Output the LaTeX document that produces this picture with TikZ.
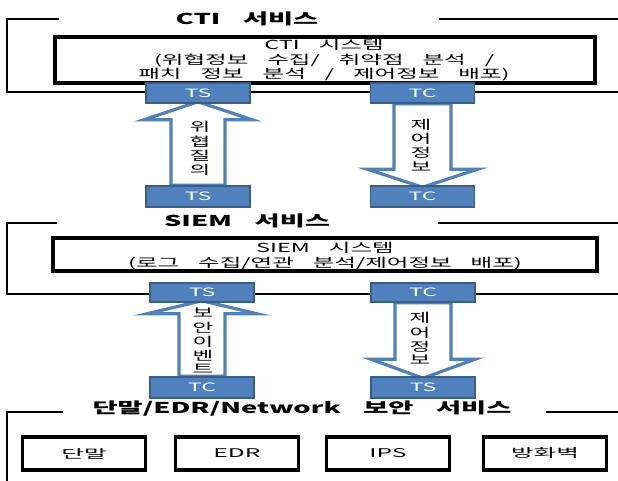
\documentclass[tikz,border=0pt]{standalone}
\usepackage{fontspec}
\setmainfont{Noto Sans CJK KR}[WordSpace=3.6]
\usetikzlibrary{calc}
\definecolor{blueF}{RGB}{79,129,189}
\definecolor{blueD}{RGB}{56,93,138}
\newcommand{\wttl}[1]{\scalebox{1.82}[1]{#1}}
\newcommand{\wbody}[1]{\scalebox{1.88}[1]{#1}}
\newcommand{\wblue}[1]{\scalebox{2.0}[1]{#1}}
\newcommand{\wdev}[1]{\scalebox{2.05}[1]{#1}}
\newcommand{\fsz}[2]{\fontsize{#1}{#2}\selectfont}
\newcommand{\vstack}[1]{\scalebox{1.8}[1]{\fsz{12.5}{12.8}\begin{tabular}{@{}c@{}}#1\end{tabular}}}
\begin{document}
\begin{tikzpicture}[x=1pt,y=-1pt,
  tsbox/.style={draw=blueD, fill=blueF, line width=1.5pt, minimum width=104pt, minimum height=20pt, inner sep=0pt, text=white, font=\fsz{11.5}{13}},
  sysbox/.style={draw=black, line width=3.2pt, inner sep=0pt},
  devbox/.style={draw=black, line width=3.2pt, minimum width=123pt, minimum height=33pt, inner sep=0pt, font=\fsz{12}{14}},
  frame/.style={line width=2pt, draw=black},
  barrow/.style={draw=blueF, line width=3.2pt, fill=white, line join=miter},
  ttl/.style={font=\bfseries\fsz{15}{17}, inner sep=0pt},
  vlab/.style={inner sep=0pt}]
\clip (0,0) rectangle (618,481);
\fill[white] (0,0) rectangle (618,481);
% frames
\draw[frame] (59,19) -- (7,19) -- (7,92) -- (625,92) -- (625,19) -- (439,19);
\draw[frame] (57,223) -- (7,223) -- (7,294) -- (625,294) -- (625,223) -- (438,223);
\draw[frame] (63,412) -- (7,412) -- (7,495);
\draw[frame] (546,412) -- (625,412);
% titles
\node[ttl] (ctititle) at (247,19) {\wttl{CTI 서비스}};
\node[ttl] (siemtitle) at (247,221) {\wttl{SIEM 서비스}};
\node[ttl] (devtitle) at (302,409) {\wttl{단말/EDR/Network 보안 서비스}};
% system boxes
\node[sysbox, minimum width=540pt, minimum height=46pt] (ctisys) at (325,60) {};
\node[inner sep=0pt, font=\fsz{12.5}{13.7}] (ctitext) at (324,61)
  {\wbody{\begin{tabular}{@{}c@{}}CTI 시스템\\(위협정보 수집/ 취약점 분석 /\\패치 정보 분석 / 제어정보 배포)\end{tabular}}};
\node[sysbox, minimum width=544pt, minimum height=33pt] (siemsys) at (325,254.5) {};
\node[inner sep=0pt, font=\fsz{12.5}{14.5}] (siemtext) at (325,256.7)
  {\wbody{\begin{tabular}{@{}c@{}}SIEM 시스템\\(로그 수집/연관 분석/제어정보 배포)\end{tabular}}};
% TS / TC box positions
\coordinate (pA) at (198,93);
\coordinate (qA) at (422.5,93);
\coordinate (pB) at (198,196.5);
\coordinate (qB) at (422.5,196.5);
\coordinate (pC) at (202,292.5);
\coordinate (qC) at (423,292.5);
\coordinate (pD) at (202,387.5);
\coordinate (qD) at (423,387.5);
% invisible geometry nodes for arrow ends
\node[tsbox, draw=none, fill=none] (tsA) at (pA) {};
\node[tsbox, draw=none, fill=none] (tcA) at (qA) {};
\node[tsbox, draw=none, fill=none, minimum height=21pt] (tsB) at (pB) {};
\node[tsbox, draw=none, fill=none, minimum height=21pt] (tcB) at (qB) {};
\node[tsbox, draw=none, fill=none, minimum height=19pt] (tsC) at (pC) {};
\node[tsbox, draw=none, fill=none, minimum height=19pt] (tcC) at (qC) {};
\node[tsbox, draw=none, fill=none, minimum height=21pt] (tcD) at (pD) {};
\node[tsbox, draw=none, fill=none, minimum height=21pt] (tsD) at (qD) {};
% block arrows
\draw[barrow] ($(tsA.south)+(0,-2)$) -- ($(tsA.south)+(54,16)$) -- ($(tsA.south)+(27,16)$) -- ($(tsB.north)+(27,0)$) -- ($(tsB.north)+(-27,0)$) -- ($(tsA.south)+(-27,16)$) -- ($(tsA.south)+(-54,16)$) -- cycle;
\draw[barrow] ($(tcA.south)+(-28.5,0)$) -- ($(tcA.south)+(28.5,0)$) -- ($(tcB.north)+(28.5,-16)$) -- ($(tcB.north)+(55,-16)$) -- ($(tcB.north)+(0,2)$) -- ($(tcB.north)+(-55,-16)$) -- ($(tcB.north)+(-28.5,-16)$) -- cycle;
\draw[barrow] ($(tsC.south)+(0,-2)$) -- ($(tsC.south)+(55,11)$) -- ($(tsC.south)+(23,11)$) -- ($(tcD.north)+(23,0)$) -- ($(tcD.north)+(-23,0)$) -- ($(tsC.south)+(-23,11)$) -- ($(tsC.south)+(-55,11)$) -- cycle;
\draw[barrow] ($(tcC.south)+(-28,0)$) -- ($(tcC.south)+(28,0)$) -- ($(tsD.north)+(28,-17)$) -- ($(tsD.north)+(52,-17)$) -- ($(tsD.north)+(0,2)$) -- ($(tsD.north)+(-52,-17)$) -- ($(tsD.north)+(-28,-17)$) -- cycle;
% TS / TC boxes on top
\node[tsbox] (bA) at (pA) {\wblue{TS}};
\node[tsbox] (cA) at (qA) {\wblue{TC}};
\node[tsbox, minimum height=21pt] (bB) at (pB) {\wblue{TS}};
\node[tsbox, minimum height=21pt] (cB) at (qB) {\wblue{TC}};
\node[tsbox, minimum height=19pt] (bC) at (pC) {\wblue{TS}};
\node[tsbox, minimum height=19pt] (cC) at (qC) {\wblue{TC}};
\node[tsbox, minimum height=21pt] (bD) at (pD) {\wblue{TC}};
\node[tsbox, minimum height=21pt] (cD) at (qD) {\wblue{TS}};
% arrow labels
\node[vlab] (l1) at (200,150) {\vstack{위\\협\\질\\의}};
\node[vlab] (l2) at (421,147) {\vstack{제\\어\\정\\보}};
\node[vlab] (l3) at (203,343) {\vstack{보\\안\\이\\벤\\트}};
\node[vlab] (l4) at (420,340.5) {\vstack{제\\어\\정\\보}};
% devices
\node[devbox] (d1) at (84,453.5) {\wdev{단말}};
\node[devbox] (d2) at (237,453.5) {\wdev{EDR}};
\node[devbox] (d3) at (388,453.5) {\wdev{IPS}};
\node[devbox] (d4) at (545,453.5) {\wdev{방화벽}};
\end{tikzpicture}
\end{document}
